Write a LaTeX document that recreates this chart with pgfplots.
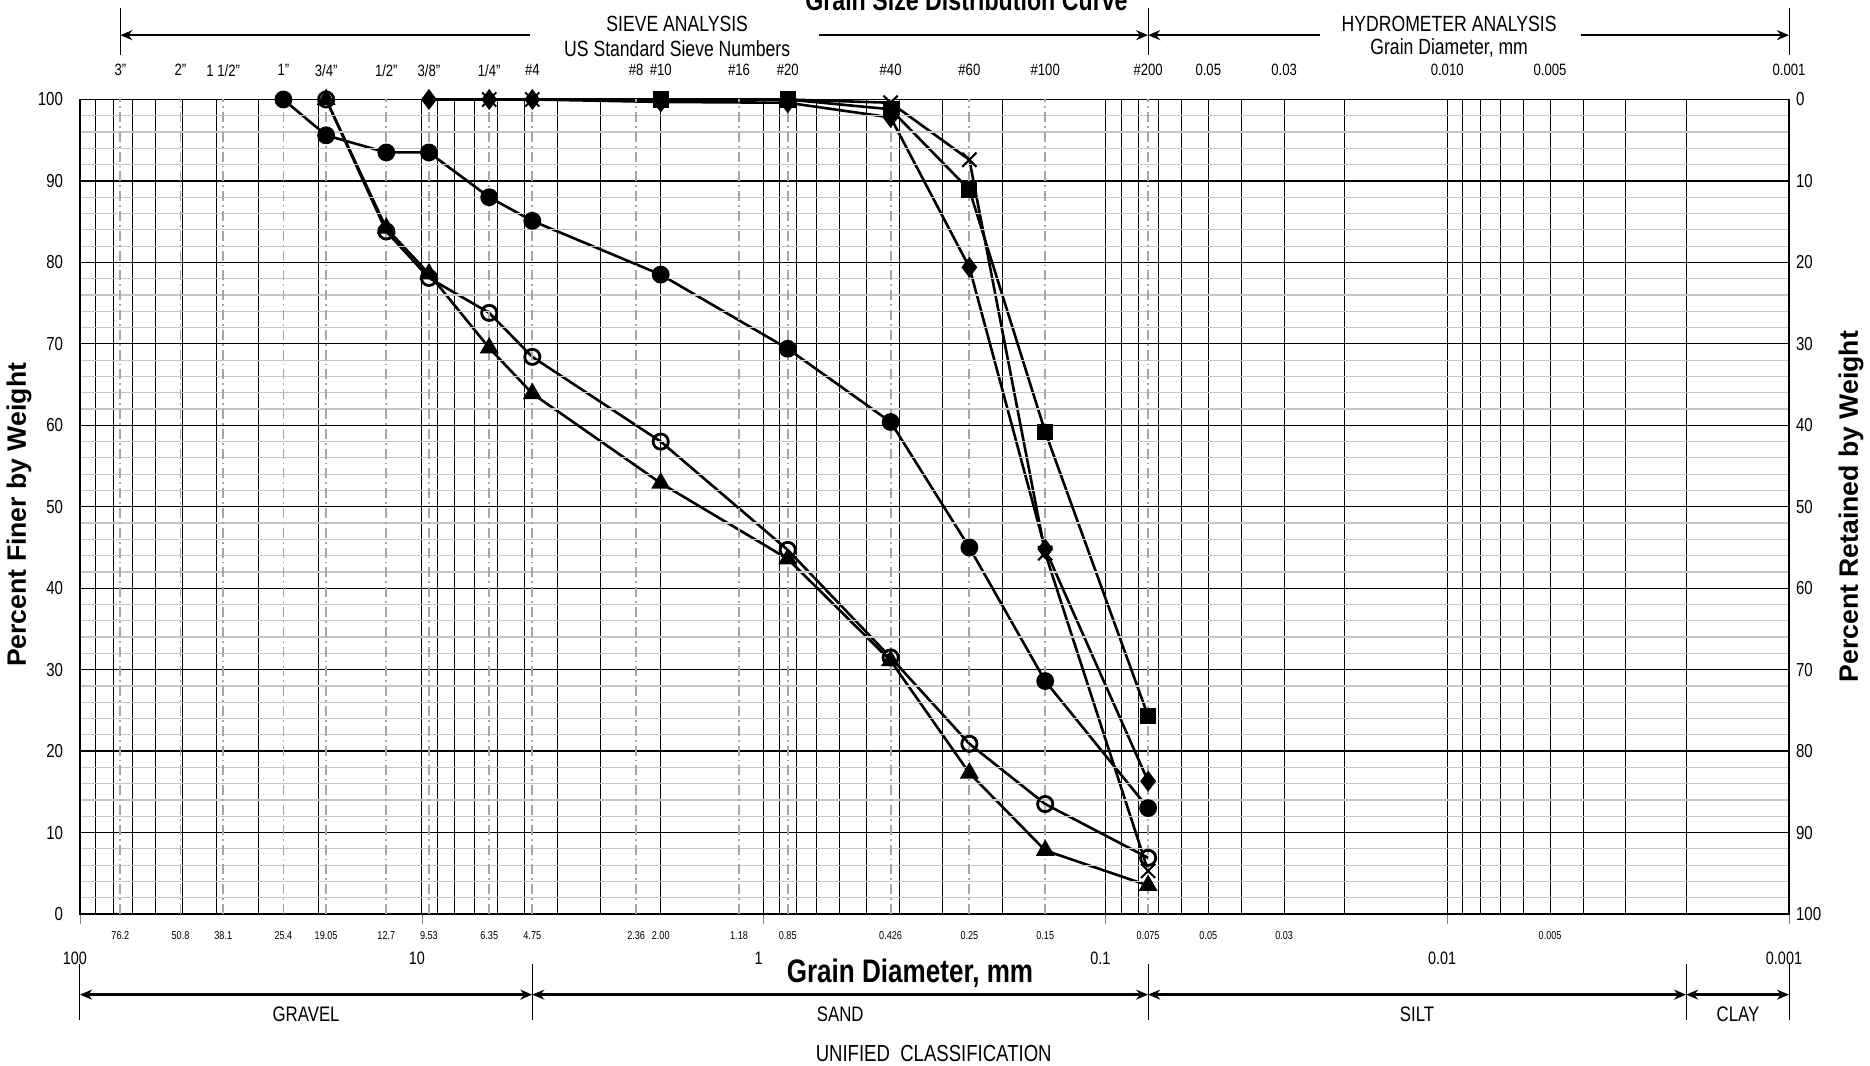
\documentclass[border=0pt]{standalone}
\usepackage{pgfplots}
\pgfplotsset{compat=1.18}
\usetikzlibrary{arrows.meta}
\usepackage{fontspec}
\setmainfont{Liberation Sans}[FakeStretch=0.8]
\newfontfamily\widefont{Liberation Sans}

\newcommand{\fs}[1]{\fontsize{#1}{#1}\selectfont}
% label helpers (called with literal arguments inside the axis)
\newcommand{\toplab}[2]{\node[font=\fs{8.2}] at (axis cs:#1,103.6) {#2};}
\newcommand{\sizelab}[2]{\node[font=\fs{5.7}] at (axis cs:#1,-2.6) {#2};}
\newcommand{\declab}[1]{\node[font=\fs{9}, xshift=-2.5pt] at (axis cs:#1,-5.4) {#1};}
\newcommand{\vtick}[3]{\draw[line width=0.5pt] (axis cs:#1,#2) -- (axis cs:#1,#3);}

\begin{document}
\begin{tikzpicture}
\useasboundingbox (-40pt,-75.75pt) rectangle (895pt,457pt);
\begin{axis}[
  at={(0,0)}, anchor=south west,
  scale only axis, width=854.5pt, height=407.25pt,
  xmode=log, x dir=reverse, xmin=0.001, xmax=100,
  ymin=0, ymax=100,
  xtick={0.001,0.01,0.1,1,10,100}, xticklabels={},
  tick align=outside, xtick pos=bottom,
  major tick length=5pt, minor tick length=0pt,
  ytick={0,10,...,100}, minor y tick num=4,
  ytick style={draw=none},
  yticklabel style={font=\fs{9.4}},
  /pgf/number format/assume math mode=true,
  xmajorgrids, xminorgrids, ymajorgrids, yminorgrids,
  major x grid style={black, line width=0.5pt},
  minor x grid style={black, line width=0.5pt},
  major y grid style={black, line width=0.6pt},
  minor y grid style={gray!45, line width=0.6pt},
  extra x ticks={76.2,50.8,38.1,25.4,19.05,12.7,9.53,6.35,4.75,2.36,1.18,0.85,0.425,0.25,0.15,0.075},
  extra x tick labels={},
  extra x tick style={grid=major, major tick length=0pt,
    major x grid style={gray!70, line width=0.9pt, dash pattern=on 5pt off 2pt on 0.9pt off 2pt}},
  axis line style={black, line width=0.8pt},
  axis on top, clip=false,
  every axis plot/.append style={black, line width=1.3pt, mark options={solid}},
]
% series: filled square
\addplot[mark=square*, mark size=3.4pt] coordinates {
  (2.00,100) (0.85,100) (0.425,98.8) (0.25,88.9) (0.15,59.2) (0.075,24.3)};
% filled diamond
\addplot[mark=diamond*, mark size=4.2pt] coordinates {
  (9.53,100) (6.35,100) (4.75,100) (2.00,99.7) (0.85,99.6) (0.425,97.8)
  (0.25,79.4) (0.15,44.8) (0.075,16.3)};
% cross
\addplot[mark=x, mark size=5pt, mark options={line width=1pt}] coordinates {
  (6.35,100) (4.75,100) (2.00,100) (0.85,100) (0.425,99.6)
  (0.25,92.6) (0.15,44.3) (0.075,5.3)};
% filled circle
\addplot[mark=*, mark size=3.8pt] coordinates {
  (25.4,100) (19.05,95.6) (12.7,93.5) (9.53,93.5) (6.35,88.0) (4.75,85.1)
  (2.00,78.5) (0.85,69.4) (0.425,60.4) (0.25,45.0) (0.15,28.6) (0.075,13.0)};
% filled triangle
\addplot[mark=triangle*, mark size=4.2pt] coordinates {
  (19.05,100) (12.7,84.2) (9.53,78.6) (6.35,69.5) (4.75,63.9)
  (2.00,52.9) (0.85,43.6) (0.425,31.1) (0.25,17.3) (0.15,7.8) (0.075,3.5)};
% open circle
\addplot[mark=o, mark size=3.8pt, mark options={line width=1.4pt}] coordinates {
  (19.05,100) (12.7,83.8) (9.53,78.1) (6.35,73.8) (4.75,68.4)
  (2.00,58.0) (0.85,44.7) (0.425,31.5) (0.25,20.9) (0.15,13.5) (0.075,6.9)};

% title
\node[anchor=base, font=\fs{14.5}\bfseries] at (axis cs:0.255,110.9) {Grain Size Distribution Curve};

% top sieve labels
\toplab{76.2}{3"}
\toplab{50.8}{2"}
\toplab{38.1}{1 1/2"}
\toplab{25.4}{1"}
\toplab{19.05}{3/4"}
\toplab{12.7}{1/2"}
\toplab{9.53}{3/8"}
\toplab{6.35}{1/4"}
\toplab{4.75}{\#4}
\toplab{2.36}{\#8}
\toplab{2.00}{\#10}
\toplab{1.18}{\#16}
\toplab{0.85}{\#20}
\toplab{0.425}{\#40}
\toplab{0.25}{\#60}
\toplab{0.15}{\#100}
\toplab{0.075}{\#200}
\toplab{0.05}{0.05}
\toplab{0.03}{0.03}
\toplab{0.01}{0.010}
\toplab{0.005}{0.005}
\toplab{0.001}{0.001}

% top headings and arrows
\node[font=\fs{11}] at (axis cs:1.79,109.3) {SIEVE ANALYSIS};
\node[font=\fs{11}] at (axis cs:1.79,106.3) {US Standard Sieve Numbers};
\node[font=\fs{11}] at (axis cs:0.00987,109.3) {HYDROMETER ANALYSIS};
\node[font=\fs{11}] at (axis cs:0.00987,106.3) {Grain Diameter, mm};
\vtick{76.2}{105.5}{111.2}
\vtick{0.075}{105.5}{111.2}
\vtick{0.001}{105.5}{111.2}
\draw[line width=1.2pt, -{Stealth[length=6pt,width=5pt]}] (axis cs:4.84,107.9) -- (axis cs:76.2,107.9);
\draw[line width=1.2pt, -{Stealth[length=6pt,width=5pt]}] (axis cs:0.69,107.9) -- (axis cs:0.075,107.9);
\draw[line width=1.2pt, -{Stealth[length=6pt,width=5pt]}] (axis cs:0.0236,107.9) -- (axis cs:0.075,107.9);
\draw[line width=1.2pt, -{Stealth[length=6pt,width=5pt]}] (axis cs:0.00406,107.9) -- (axis cs:0.001,107.9);

% bottom size labels
\sizelab{76.2}{76.2}
\sizelab{50.8}{50.8}
\sizelab{38.1}{38.1}
\sizelab{25.4}{25.4}
\sizelab{19.05}{19.05}
\sizelab{12.7}{12.7}
\sizelab{9.53}{9.53}
\sizelab{6.35}{6.35}
\sizelab{4.75}{4.75}
\sizelab{2.36}{2.36}
\sizelab{2.00}{2.00}
\sizelab{1.18}{1.18}
\sizelab{0.85}{0.85}
\sizelab{0.425}{0.426}
\sizelab{0.25}{0.25}
\sizelab{0.15}{0.15}
\sizelab{0.075}{0.075}
\sizelab{0.05}{0.05}
\sizelab{0.03}{0.03}
\sizelab{0.005}{0.005}
\declab{100}
\declab{10}
\declab{1}
\declab{0.1}
\declab{0.01}
\declab{0.001}
\node[font=\fs{16.3}\bfseries] at (axis cs:0.373,-7.3) {Grain Diameter, mm};

% classification
\vtick{100}{-6.2}{-13}
\vtick{4.75}{-6.2}{-13}
\vtick{0.075}{-6.2}{-13}
\vtick{0.002}{-6.2}{-13}
\vtick{0.001}{-6.2}{-13}
\draw[line width=1.2pt, {Stealth[length=6pt,width=5pt]}-{Stealth[length=6pt,width=5pt]}] (axis cs:100,-9.9) -- (axis cs:4.75,-9.9);
\draw[line width=1.2pt, {Stealth[length=6pt,width=5pt]}-{Stealth[length=6pt,width=5pt]}] (axis cs:4.75,-9.9) -- (axis cs:0.075,-9.9);
\draw[line width=1.2pt, {Stealth[length=6pt,width=5pt]}-{Stealth[length=6pt,width=5pt]}] (axis cs:0.075,-9.9) -- (axis cs:0.002,-9.9);
\draw[line width=1.2pt, {Stealth[length=6pt,width=5pt]}-{Stealth[length=6pt,width=5pt]}] (axis cs:0.002,-9.9) -- (axis cs:0.001,-9.9);
\node[font=\fs{10.5}] at (axis cs:21.8,-12.3) {GRAVEL};
\node[font=\fs{10.5}] at (axis cs:0.597,-12.3) {SAND};
\node[font=\fs{10.5}] at (axis cs:0.01225,-12.3) {SILT};
\node[font=\fs{10.5}] at (axis cs:0.00141,-12.3) {CLAY};
\node[font=\fs{11.6}] at (axis cs:0.318,-17.1) {UNIFIED\ \ CLASSIFICATION};

% axis titles
\node[rotate=90, font=\widefont\fs{13.3}\bfseries] at ([xshift=-30.5pt]rel axis cs:0,0.49) {Percent Finer by Weight};
\node[rotate=90, font=\widefont\fs{13.3}\bfseries] at ([xshift=31pt]rel axis cs:1,0.5) {Percent Retained by Weight};
\end{axis}
\begin{axis}[
  at={(0,0)}, anchor=south west,
  scale only axis, width=854.5pt, height=407.25pt,
  xmin=0, xmax=1, ymin=0, ymax=100, y dir=reverse,
  axis y line*=right, axis x line=none,
  ytick={0,10,...,100}, ytick style={draw=none},
  yticklabel style={font=\fs{9.4}},
  /pgf/number format/assume math mode=true,
  axis line style={black, line width=0.8pt},
]
\end{axis}
\end{tikzpicture}
\end{document}
